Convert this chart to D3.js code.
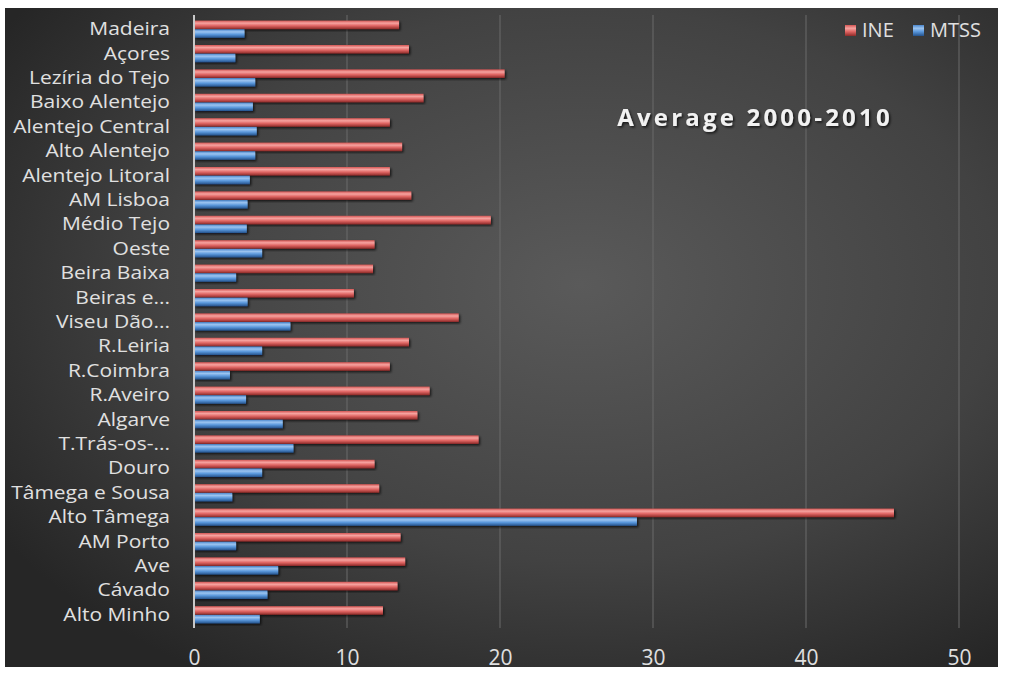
<!DOCTYPE html>
<html>
<head>
<meta charset="utf-8">
<script src="https://cdn.jsdelivr.net/npm/d3@7"></script>
<style>
  body { margin: 0; background: #fff; }
  svg { display: block; }
</style>
</head>
<body>
<svg id="chart" width="1009" height="673"></svg>
<script>
// regions, top to bottom as drawn
const regions = ["Madeira", "Açores", "Lezíria do Tejo", "Baixo Alentejo", "Alentejo Central",
  "Alto Alentejo", "Alentejo Litoral", "AM Lisboa", "Médio Tejo", "Oeste", "Beira Baixa",
  "Beiras e...", "Viseu Dão...", "R.Leiria", "R.Coimbra", "R.Aveiro", "Algarve", "T.Trás-os-...",
  "Douro", "Tâmega e Sousa", "Alto Tâmega", "AM Porto", "Ave", "Cávado", "Alto Minho"]
const ineValues = [13.4, 14.05, 20.3, 15.0, 12.8, 13.6, 12.8, 14.2, 19.4, 11.8, 11.7,
  10.45, 17.3, 14.05, 12.8, 15.4, 14.6, 18.6, 11.8, 12.1, 45.75, 13.5, 13.8, 13.3, 12.35]
const mtssValues = [3.3, 2.7, 4.0, 3.85, 4.1, 4.0, 3.65, 3.5, 3.45, 4.45, 2.75,
  3.5, 6.3, 4.45, 2.35, 3.4, 5.8, 6.5, 4.45, 2.5, 28.95, 2.75, 5.5, 4.8, 4.3]
const seriesNames = ["INE", "MTSS"]
const xTicks = [0, 10, 20, 30, 40, 50]
const title = "Average 2000-2010"

let data = regions.map((r, i) => ({region: r, INE: ineValues[i], MTSS: mtssValues[i]}))

let margin = ({top: 17, right: 50, bottom: 45, left: 194})
let width = 1009, height = 673
let box = ({x: 5, y: 8, w: 993, h: 659})

const svg = d3.select("#chart")
const defs = svg.append("defs")

let bg = defs.append("radialGradient").attr("id", "bg")
  .attr("cx", "58%").attr("cy", "42%").attr("r", "70%")
bg.append("stop").attr("offset", "0%").attr("stop-color", "#5a5a5a")
bg.append("stop").attr("offset", "60%").attr("stop-color", "#424242")
bg.append("stop").attr("offset", "100%").attr("stop-color", "#262626")

const barColors = {
  INE: ["#f6a3a0", "#e06664", "#d35553", "#8e2a28"],
  MTSS: ["#9cc4f0", "#5a98dc", "#4a86cc", "#24528c"]
}
seriesNames.forEach(s => {
  let g = defs.append("linearGradient").attr("id", "grad-" + s)
    .attr("x1", 0).attr("y1", 0).attr("x2", 0).attr("y2", 1)
  let c = barColors[s]
  g.append("stop").attr("offset", "0%").attr("stop-color", c[2])
  g.append("stop").attr("offset", "30%").attr("stop-color", c[0])
  g.append("stop").attr("offset", "60%").attr("stop-color", c[1])
  g.append("stop").attr("offset", "100%").attr("stop-color", c[3])
})

let shadow = defs.append("filter").attr("id", "shadow")
  .attr("x", "-10%").attr("y", "-30%").attr("width", "120%").attr("height", "160%")
shadow.append("feDropShadow").attr("dx", 1.5).attr("dy", 1.5).attr("stdDeviation", 1.2)
  .attr("flood-color", "#000").attr("flood-opacity", 0.7)

svg.append("rect")
  .attr("x", box.x).attr("y", box.y).attr("width", box.w).attr("height", box.h)
  .attr("fill", "url(#bg)")

let x = d3.scaleLinear()
  .domain([0, 50])
  .range([margin.left, width - margin.right])

let y = d3.scaleBand()
  .domain(regions)
  .range([margin.top, height - margin.bottom - 1])
  .paddingInner(0.28)
  .paddingOuter(0.14)

let ySub = d3.scaleBand()
  .domain(seriesNames)
  .range([0, y.bandwidth()])
  .padding(0.02)

// gridlines
svg.append("g")
  .selectAll("line")
  .data(xTicks.filter(t => t > 0))
  .join("line")
  .attr("x1", d => x(d)).attr("x2", d => x(d))
  .attr("y1", margin.top - 2).attr("y2", height - margin.bottom)
  .attr("stroke", "#6a6a6a")
  .attr("stroke-width", 1)

// bars
let groups = svg.append("g")
  .selectAll("g")
  .data(data)
  .join("g")
  .attr("transform", d => `translate(0,${y(d.region)})`)

groups.selectAll("rect")
  .data(d => seriesNames.map(s => ({series: s, value: d[s]})))
  .join("rect")
  .attr("x", x(0))
  .attr("y", d => ySub(d.series))
  .attr("width", d => x(d.value) - x(0))
  .attr("height", ySub.bandwidth())
  .attr("fill", d => "url(#grad-" + d.series + ")")
  .attr("filter", "url(#shadow)")

// vertical axis line
svg.append("line")
  .attr("x1", x(0)).attr("x2", x(0))
  .attr("y1", margin.top - 2).attr("y2", height - margin.bottom)
  .attr("stroke", "#c8c8c8")
  .attr("stroke-width", 2)

// category labels (slightly stretched, like the original)
let yAxis = g => g
  .attr("transform", `translate(${x(0) - 24},0)`)
  .call(d3.axisLeft(y).tickSize(0).tickPadding(0))
  .call(g => g.select(".domain").remove())
  .call(g => g.selectAll(".tick text")
    .attr("fill", "#e0e0e0")
    .attr("font-family", "'Open Sans', sans-serif")
    .attr("font-size", 17.5)
    .attr("transform", "scale(1.2,1)")
    .attr("dy", "0.34em"))
svg.append("g").call(yAxis)

// x tick labels
let xAxis = g => g
  .attr("transform", `translate(0,${height - 8})`)
  .call(d3.axisBottom(x).tickValues(xTicks).tickSize(0).tickPadding(0))
  .call(g => g.select(".domain").remove())
  .call(g => g.selectAll(".tick text")
    .attr("fill", "#e0e0e0")
    .attr("font-family", "'Liberation Sans Narrow', 'Open Sans', sans-serif")
    .attr("font-size", 21)
    .attr("dy", "0"))
svg.append("g").call(xAxis)

// title
svg.append("text")
  .attr("x", 755).attr("y", 126)
  .attr("text-anchor", "middle")
  .attr("fill", "#f2f2f2")
  .attr("font-family", "'Open Sans', sans-serif")
  .attr("font-weight", "bold")
  .attr("font-size", 24)
  .attr("letter-spacing", 3.2)
  .attr("filter", "url(#shadow)")
  .text(title)

// legend
let legendX = [845, 913]
let legend = svg.append("g")
  .selectAll("g")
  .data(seriesNames)
  .join("g")
  .attr("transform", (d, i) => `translate(${legendX[i]},30)`)
legend.append("rect")
  .attr("x", 0).attr("y", -5).attr("width", 11).attr("height", 11)
  .attr("fill", d => "url(#grad-" + d + ")")
legend.append("text")
  .attr("x", 17).attr("y", 0).attr("dy", "0.35em")
  .attr("fill", "#e0e0e0")
  .attr("font-family", "'Open Sans', sans-serif")
  .attr("font-size", 20)
  .text(d => d)
</script>
</body>
</html>
